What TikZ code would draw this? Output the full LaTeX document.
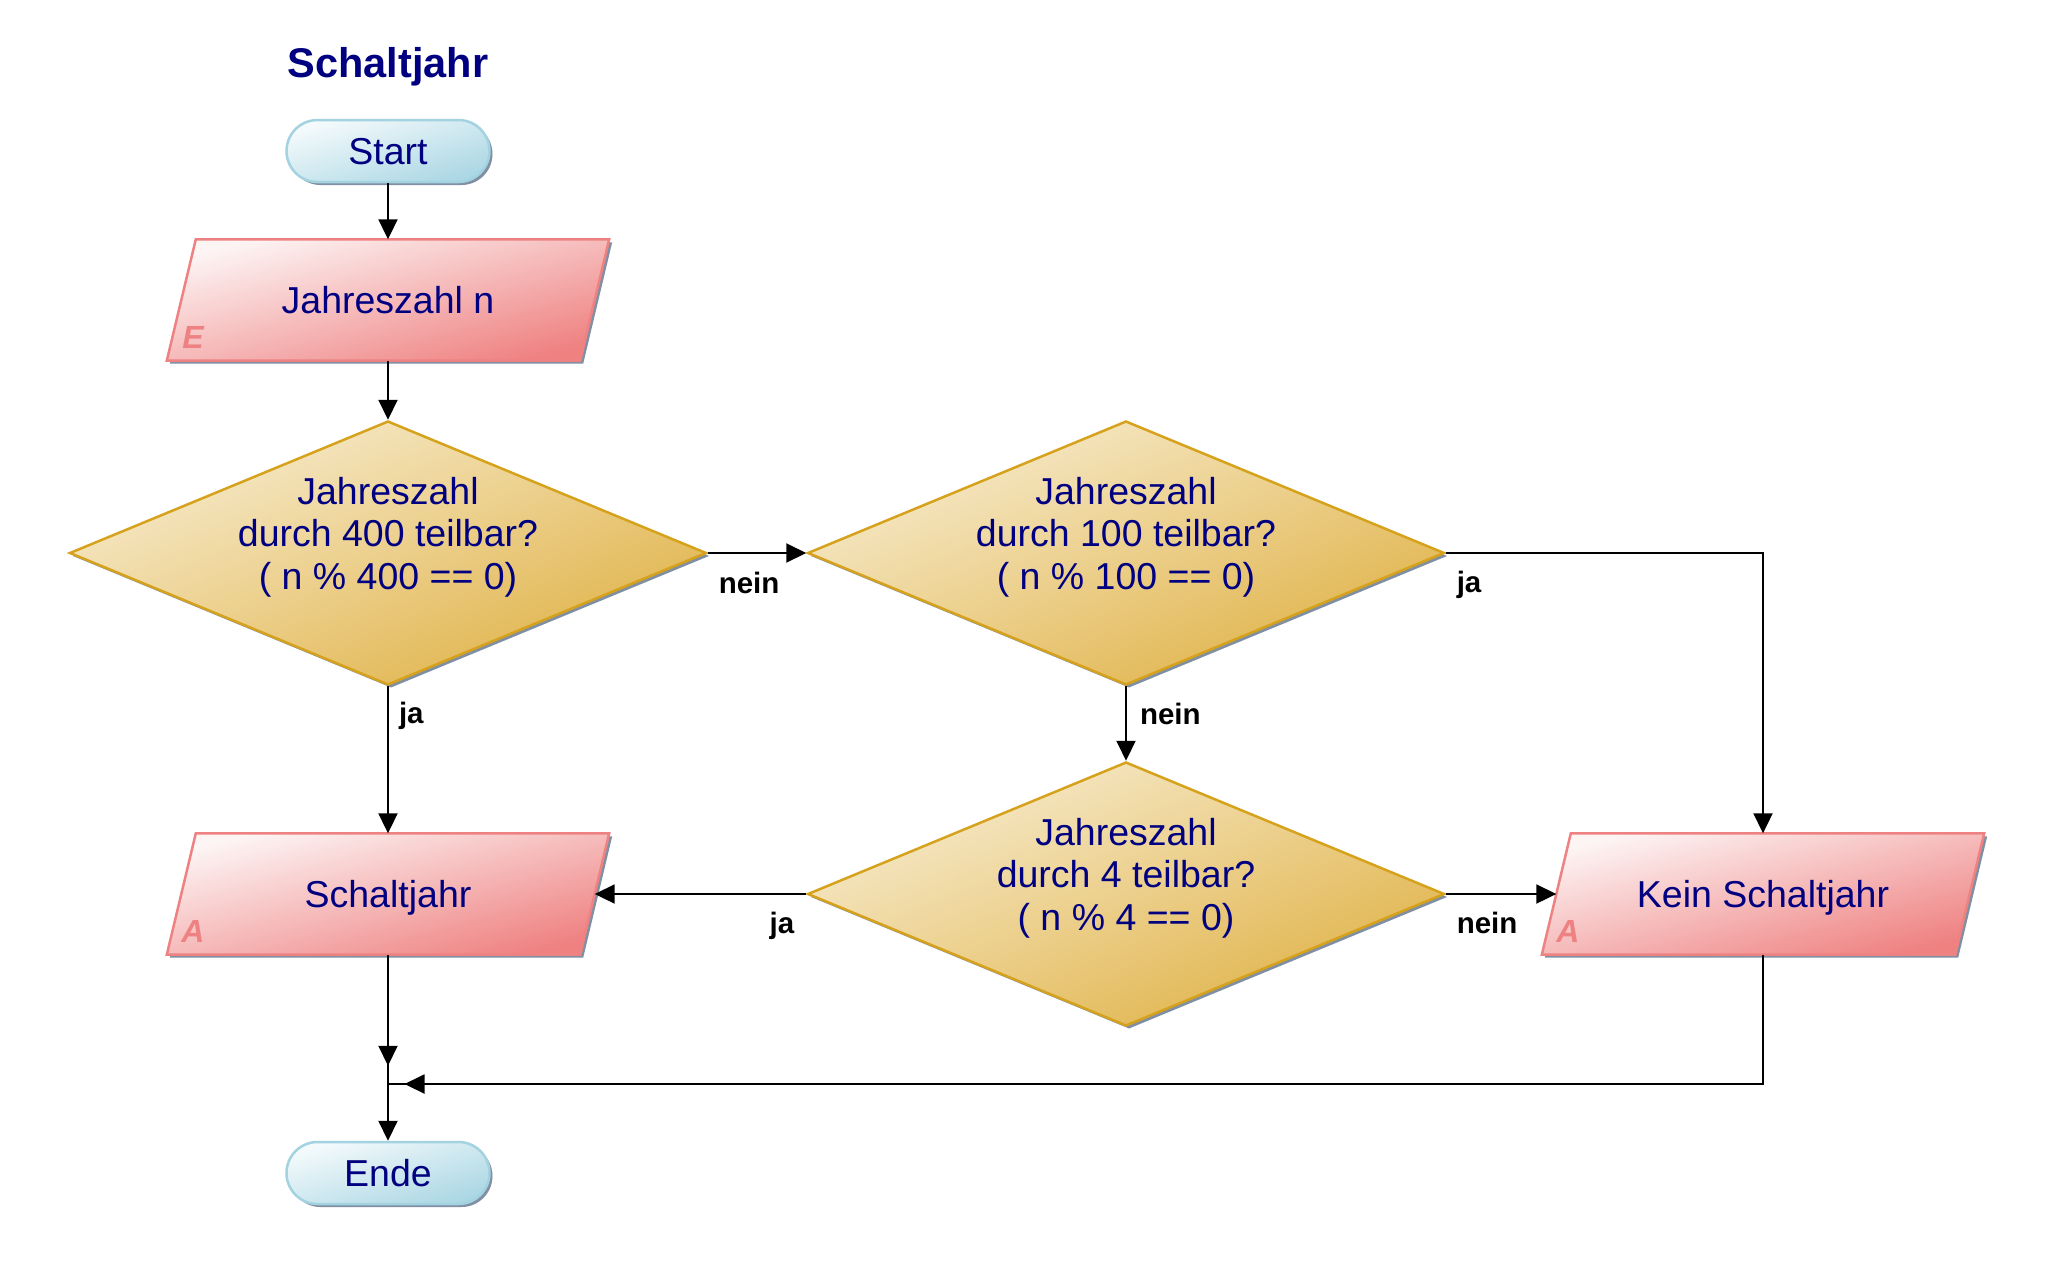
\documentclass[tikz,border=0pt]{standalone}
\usepackage{fontspec}
\setmainfont{Liberation Sans}
\usetikzlibrary{shapes.geometric,arrows.meta,shadows,calc,backgrounds,decorations.markings}
\definecolor{navy}{HTML}{000080}
\definecolor{shadowc}{RGB}{128,143,162}
\definecolor{termA}{HTML}{F4FAFC}
\definecolor{termB}{HTML}{ABD7E4}
\definecolor{termL}{HTML}{A3D2E0}
\definecolor{paraA}{HTML}{FDF4F4}
\definecolor{paraB}{HTML}{EF8181}
\definecolor{paraL}{HTML}{EE8282}
\definecolor{diaA}{HTML}{F7ECCF}
\definecolor{diaB}{HTML}{E0B247}
\definecolor{diaL}{HTML}{D6A21C}
\tikzset{
  mytext/.style={text=navy, font=\fontsize{37.5pt}{42.5pt}\selectfont},
  myshadow/.style={drop shadow={shadow xshift=3pt, shadow yshift=-3pt, fill=shadowc, opacity=1}},
  terminal/.style={mytext, rectangle, rounded corners=31pt, minimum width=203pt, minimum height=62pt, inner sep=0pt, text height=26.9pt, text depth=0pt, draw=termL, line width=2.5pt, top color=termA, bottom color=termB, shading angle=17, myshadow},
  paranode/.style={mytext, rectangle, minimum width=413pt, minimum height=121pt, inner sep=0pt, text height=26.9pt, text depth=0pt},
  parashape/.style={draw=paraL, line width=2.5pt, top color=paraA, bottom color=paraB, shading angle=15, myshadow, line join=miter},
  decision/.style={diamond, aspect=2.4, minimum width=637pt, minimum height=264pt, inner sep=0pt, draw=diaL, line width=2.5pt, top color=diaA, bottom color=diaB, shading angle=22.5, myshadow},
  dtext/.style={mytext, align=center, inner sep=0pt},
  tag/.style={text=paraL, font=\fontsize{32pt}{36pt}\selectfont\bfseries\itshape, inner sep=0pt, text height=23pt, text depth=0pt},
  lab/.style={font=\fontsize{29.5pt}{34pt}\selectfont\bfseries, inner sep=0pt, text=black},
  conn/.style={draw=black, line width=2pt},
  arr/.style={conn, -{Triangle[length=20pt,width=19pt]}},
  midtip/.style={postaction={decorate}, decoration={markings, mark=at position #1 with {\arrow{Triangle[length=20pt,width=19pt]}}}},
}
\begin{document}
\begin{tikzpicture}[x=1pt,y=-1pt]
\useasboundingbox (0,0) rectangle (2053,1262);

\node[font=\fontsize{41.5pt}{46pt}\selectfont\bfseries, text=navy, anchor=base, inner sep=0pt] (T) at (388,77) {Schaltjahr};

\node[terminal] (S) at (388,151) {Start};
\node[paranode] (J) at (388,300) {Jahreszahl n};
\node[decision] (D1) at (388,553) {};
\node[decision] (D2) at (1126,553) {};
\node[decision] (D3) at (1126,894) {};
\node[paranode] (SJ) at (388,894) {Schaltjahr};
\node[paranode] (K) at (1763,894) {Kein Schaltjahr};
\node[terminal] (E) at (388,1173) {Ende};

\node[dtext] (D1t) at ([yshift=16pt]D1.center) {Jahreszahl\\durch 400 teilbar?\\( n \% 400 == 0)};
\node[dtext] (D2t) at ([yshift=16pt]D2.center) {Jahreszahl\\durch 100 teilbar?\\( n \% 100 == 0)};
\node[dtext] (D3t) at ([yshift=16pt]D3.center) {Jahreszahl\\durch 4 teilbar?\\( n \% 4 == 0)};

\begin{scope}[on background layer]
\fill[white] (0,0) rectangle (2053,1262);
\foreach \n in {J,SJ,K} {
  \path[parashape] ($(\n.north west)+(14.5pt,0pt)$) -- ($(\n.north east)+(14.5pt,0pt)$) -- ($(\n.south east)+(-14.5pt,0pt)$) -- ($(\n.south west)+(-14.5pt,0pt)$) -- cycle;
}
\end{scope}

\node[tag] (tE) at ($(J.center)+(-195pt,-36.5pt)$) {E};
\node[tag] (tA1) at ($(SJ.center)+(-195pt,-36.5pt)$) {A};
\node[tag] (tA2) at ($(K.center)+(-195pt,-36.5pt)$) {A};

\draw[arr] (S.south) -- (J.north);
\draw[arr] (J.south) -- (D1.north);
\draw[arr] (D1.east) -- (D2.west) node[lab, at start, anchor=base west, xshift=10pt, yshift=-40pt] {nein};
\draw[arr] (D1.south) -- (SJ.north) node[lab, at start, anchor=base west, xshift=10pt, yshift=-37pt] {ja};
\draw[arr] (D2.east) -| (K.north) node[lab, at start, anchor=base west, xshift=10pt, yshift=-39pt] {ja};
\draw[arr] (D2.south) -- (D3.north) node[lab, at start, anchor=base west, xshift=13pt, yshift=-38pt] {nein};
\draw[arr] (D3.west) -- (SJ.east) node[lab, at start, anchor=base east, xshift=-11pt, yshift=-39pt] {ja};
\draw[arr] (D3.east) -- (K.west) node[lab, at start, anchor=base west, xshift=10pt, yshift=-39pt] {nein};
\coordinate (jn) at (388,1084);
\draw[arr, midtip=-75pt] (SJ.south) -- (E.north);
\draw[conn, midtip=-16.5pt] (K.south) |- (jn);
\end{tikzpicture}
\end{document}
